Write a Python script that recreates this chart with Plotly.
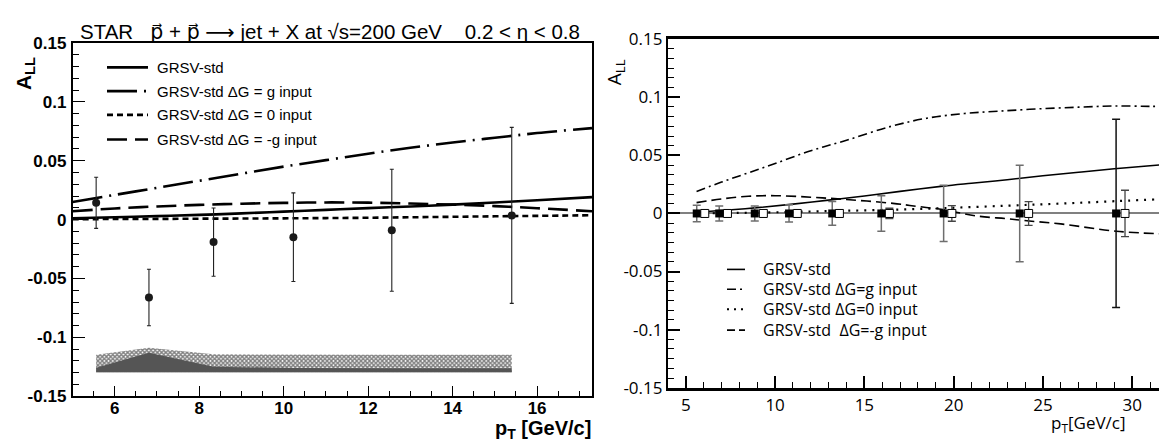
import plotly.graph_objects as go

W, H = 1167, 445

# ---------------- data: left panel (STAR jets) ----------------
star_pt = [5.56, 6.81, 8.34, 10.23, 12.56, 15.40]
star_all = [0.0143, -0.0661, -0.0191, -0.0149, -0.0090, 0.0036]
star_err = [0.0217, 0.0240, 0.0290, 0.0376, 0.0518, 0.0747]

band_pt = [5.56, 6.81, 8.34, 10.23, 12.56, 15.40]
band_bottom = -0.1297
band_hatch_top = [-0.1148, -0.1088, -0.1144, -0.1148, -0.1148, -0.1148]
band_gray_top = [-0.1257, -0.1130, -0.1249, -0.1260, -0.1262, -0.1262]

l_curve_pt = [5.0, 6.0, 7.0, 8.0, 9.0, 10.0, 11.0, 12.0, 13.0, 14.0, 15.0, 16.0, 17.3]
l_std = [0.0012, 0.0020, 0.0030, 0.0040, 0.0053, 0.0068, 0.0083, 0.0098, 0.0112, 0.0127, 0.0145, 0.0165, 0.0191]
l_g = [0.0150, 0.0210, 0.0270, 0.0330, 0.0390, 0.0450, 0.0505, 0.0560, 0.0610, 0.0655, 0.0695, 0.0735, 0.0777]
l_zero = [0.0004, 0.0005, 0.0006, 0.0008, 0.0009, 0.0011, 0.0013, 0.0016, 0.0020, 0.0024, 0.0028, 0.0032, 0.0037]
l_mg = [0.0071, 0.0095, 0.0112, 0.0125, 0.0135, 0.0142, 0.0146, 0.0144, 0.0137, 0.0127, 0.0115, 0.0097, 0.0071]

# ---------------- data: right panel (projection) ----------------
proj_pt = [5.61, 6.87, 8.86, 10.78, 13.20, 15.95, 19.44, 23.70]
proj_val = [0, 0, 0, 0, 0, 0, 0, 0]
proj_err = [0.0071, 0.0065, 0.0065, 0.0074, 0.0102, 0.0153, 0.0242, 0.0415]
proj_last_pt = [29.10]
proj_last_val = [0]
proj_last_err = [0.081]

proj2_pt = [6.06, 7.33, 9.34, 11.24, 13.60, 16.40, 19.90, 24.20, 29.60]
proj2_val = [0, 0, 0, 0, 0, 0, 0, 0, 0]
proj2_err = [0.0015, 0.0015, 0.0018, 0.0020, 0.0030, 0.0045, 0.0067, 0.0102, 0.0200]

r_std_pt = [5.6, 7.0, 9.0, 11.0, 13.0, 15.0, 17.0, 19.4, 21.0, 23.0, 25.0, 27.0, 29.0, 31.0, 32.4]
r_std = [0.0010, 0.0025, 0.0050, 0.0080, 0.0115, 0.0150, 0.0190, 0.0235, 0.0260, 0.0290, 0.0325, 0.0355, 0.0385, 0.0410, 0.0430]
r_g_pt = [5.6, 7.0, 8.5, 10.0, 12.0, 14.0, 16.5, 18.5, 20.6, 22.5, 24.7, 27.0, 29.0, 31.0, 32.4]
r_g = [0.0190, 0.0270, 0.0350, 0.0430, 0.0540, 0.0630, 0.0750, 0.0820, 0.0860, 0.0880, 0.0900, 0.0915, 0.0925, 0.0922, 0.0920]
r_zero_pt = [5.6, 8.0, 10.0, 12.9, 16.0, 19.4, 23.0, 26.0, 29.1, 32.4]
r_zero = [0.0000, 0.0005, 0.0010, 0.0020, 0.0030, 0.0046, 0.0067, 0.0085, 0.0106, 0.0128]
r_mg_pt = [5.6, 7.0, 8.5, 10.0, 12.0, 14.0, 16.6, 18.0, 19.4, 21.3, 23.0, 24.1, 26.0, 29.1, 32.4]
r_mg = [0.0093, 0.0125, 0.0148, 0.0153, 0.0140, 0.0120, 0.0087, 0.0060, 0.0033, -0.0022, -0.0045, -0.0063, -0.0090, -0.0153, -0.0180]

y_tickvals = [-0.15, -0.1, -0.05, 0, 0.05, 0.1, 0.15]
y_ticktext = ["-0.15", "-0.1", "-0.05", "0", "0.05", "0.1", "0.15"]
lx_tickvals = [6, 8, 10, 12, 14, 16]
rx_tickvals = [5, 10, 15, 20, 25, 30]

legend_left = ["GRSV-std", "GRSV-std \u0394G = g input", "GRSV-std \u0394G = 0 input", "GRSV-std \u0394G = -g input"]
legend_right = ["GRSV-std", "GRSV-std \u0394G=g input", "GRSV-std \u0394G=0 input", "GRSV-std  \u0394G=-g input"]

LFONT = "Liberation Sans, Arial, sans-serif"
RFONT = "Open Sans, Liberation Sans, sans-serif"

fig = go.Figure()

# ---- left panel ----
fig.add_trace(go.Scatter(x=band_pt, y=[band_bottom] * len(band_pt), mode="lines",
                         line=dict(width=0, color="black"), xaxis="x", yaxis="y", hoverinfo="skip"))
fig.add_trace(go.Scatter(x=band_pt, y=band_hatch_top, mode="lines", fill="tonexty",
                         line=dict(width=0, color="black"), fillcolor="black",
                         fillpattern=dict(shape="x", fgcolor="black", bgcolor="white", size=3, solidity=0.7),
                         xaxis="x", yaxis="y"))
fig.add_trace(go.Scatter(x=band_pt, y=[band_bottom] * len(band_pt), mode="lines",
                         line=dict(width=0, color="#555"), xaxis="x", yaxis="y", hoverinfo="skip"))
fig.add_trace(go.Scatter(x=band_pt, y=band_gray_top, mode="lines", fill="tonexty",
                         line=dict(width=0, color="#555"), fillcolor="#555555", xaxis="x", yaxis="y"))

lw = 2.6
fig.add_trace(go.Scatter(x=l_curve_pt, y=l_zero, mode="lines", line=dict(color="black", width=lw, dash="6px,4px", shape="spline"), xaxis="x", yaxis="y"))
fig.add_trace(go.Scatter(x=l_curve_pt, y=l_mg, mode="lines", line=dict(color="black", width=lw, dash="20px,8px", shape="spline"), xaxis="x", yaxis="y"))
fig.add_trace(go.Scatter(x=l_curve_pt, y=l_g, mode="lines", line=dict(color="black", width=lw, dash="30px,7px,2px,7px", shape="spline"), xaxis="x", yaxis="y"))
fig.add_trace(go.Scatter(x=l_curve_pt, y=l_std, mode="lines", line=dict(color="black", width=lw, shape="spline"), xaxis="x", yaxis="y"))

fig.add_trace(go.Scatter(x=star_pt, y=star_all, mode="markers",
                         marker=dict(symbol="circle", size=8, color="#1a1a1a"),
                         error_y=dict(type="data", array=star_err, color="#222", thickness=1.1, width=2),
                         xaxis="x", yaxis="y"))

# ---- right panel ----
rw = 1.6
fig.add_trace(go.Scatter(x=r_zero_pt, y=r_zero, mode="lines", line=dict(color="black", width=2.2, dash="2px,6px", shape="spline"), xaxis="x2", yaxis="y2"))
fig.add_trace(go.Scatter(x=r_mg_pt, y=r_mg, mode="lines", line=dict(color="black", width=rw, dash="10px,5px", shape="spline"), xaxis="x2", yaxis="y2"))
fig.add_trace(go.Scatter(x=r_g_pt, y=r_g, mode="lines", line=dict(color="black", width=rw, dash="9px,4px,2px,4px", shape="spline"), xaxis="x2", yaxis="y2"))
fig.add_trace(go.Scatter(x=r_std_pt, y=r_std, mode="lines", line=dict(color="black", width=rw, shape="spline"), xaxis="x2", yaxis="y2"))

fig.add_trace(go.Scatter(x=proj_pt, y=proj_val, mode="markers",
                         marker=dict(symbol="square", size=8, color="black"),
                         error_y=dict(type="data", array=proj_err, color="#6e6e6e", thickness=1.5, width=4),
                         xaxis="x2", yaxis="y2"))
fig.add_trace(go.Scatter(x=proj_last_pt, y=proj_last_val, mode="markers",
                         marker=dict(symbol="square", size=8, color="black"),
                         error_y=dict(type="data", array=proj_last_err, color="#111", thickness=1.5, width=4),
                         xaxis="x2", yaxis="y2"))
fig.add_trace(go.Scatter(x=proj2_pt, y=proj2_val, mode="markers",
                         marker=dict(symbol="square", size=8, color="white", line=dict(color="black", width=1)),
                         error_y=dict(type="data", array=proj2_err, color="#444", thickness=1.3, width=4),
                         xaxis="x2", yaxis="y2"))

def px(x):
    return x / W

def py(y):
    return 1 - y / H

fig.update_layout(
    width=W, height=H, margin=dict(l=0, r=0, t=0, b=0),
    paper_bgcolor="white", plot_bgcolor="white", showlegend=False,
    xaxis=dict(domain=[px(64.5), px(584)], range=[5.0, 17.3], tickvals=lx_tickvals,
               ticklen=11, tickwidth=1.3, tickcolor="black", linewidth=1.5, mirror=True,
               minor=dict(dtick=0.5, tick0=0, ticklen=6, tickwidth=1.1, tickcolor="black", ticks="inside"),
               tickfont=dict(family=LFONT, size=17, color="black", weight="bold"), anchor="y",
               ticklabelstandoff=-5,
               showgrid=False, zeroline=False, ticks="inside", linecolor="black"),
    yaxis=dict(domain=[py(397), py(24)], range=[-0.1502, 0.1502], tickvals=y_tickvals, ticktext=y_ticktext,
               ticklen=13, tickwidth=1.3, tickcolor="black", linewidth=1.5, mirror=True,
               minor=dict(dtick=0.01, tick0=0, ticklen=7, tickwidth=1.1, tickcolor="black", ticks="inside"),
               tickfont=dict(family=LFONT, size=17, color="black", weight="bold"), anchor="x",
               ticklabelstandoff=1,
               showgrid=False, zeroline=False, ticks="inside", linecolor="black"),
    xaxis2=dict(domain=[px(660), 1.0], range=[4.0, 32.4], tickvals=rx_tickvals,
                ticklen=12, tickwidth=1.5, tickcolor="black", linewidth=2.5, mirror=True,
                minor=dict(dtick=1, tick0=0, ticklen=6, tickwidth=1.2, tickcolor="black", ticks="inside"),
                tickfont=dict(family=RFONT, size=17, color="black"), anchor="y2",
                showgrid=False, zeroline=False, ticks="inside", linecolor="black"),
    yaxis2=dict(domain=[py(388), py(20)], range=[-0.1502, 0.1502], tickvals=y_tickvals, ticktext=y_ticktext,
                ticklen=12, tickwidth=1.5, tickcolor="black", linewidth=2.2,
                minor=dict(dtick=0.05 / 6, tick0=0, ticklen=6, tickwidth=1.2, tickcolor="black", ticks="inside"),
                tickfont=dict(family=RFONT, size=17, color="black"), anchor="x2",
                showgrid=False, zeroline=True, zerolinecolor="#808080", zerolinewidth=1.6,
                ticks="inside", linecolor="black"),
)

ann = []
pvec = '<span style="font-family:DejaVu Sans">p\u20d7</span>'
arrow = '<span style="font-family:DejaVu Sans">\u27f6</span>'
ann.append(dict(x=px(70), y=py(13), xref="paper", yref="paper", xanchor="left", yanchor="middle",
                text="STAR   " + pvec + " + " + pvec + " " + arrow + " jet + X at \u221as=200 GeV    0.2 < \u03b7 < 0.8",
                showarrow=False, font=dict(family=LFONT, size=20.5, color="black")))
ann.append(dict(x=px(17), y=py(57), xref="paper", yref="paper", xanchor="center", yanchor="middle",
                text="<b>A<sub>LL</sub></b>", textangle=-90, showarrow=False,
                font=dict(family=LFONT, size=21, color="black")))
ann.append(dict(x=px(585), y=py(432), xref="paper", yref="paper", xanchor="right", yanchor="middle",
                text="<b>p<sub>T</sub> [GeV/c]</b>", showarrow=False,
                font=dict(family=LFONT, size=20, color="black")))
ann.append(dict(x=px(607), y=py(55), xref="paper", yref="paper", xanchor="center", yanchor="middle",
                text="A<sub>LL</sub>", textangle=-90, showarrow=False,
                font=dict(family=RFONT, size=19, color="black")))
ann.append(dict(x=px(1080), y=py(425), xref="paper", yref="paper", xanchor="center", yanchor="middle",
                text="p<sub>T</sub>[GeV/c]", showarrow=False,
                font=dict(family=RFONT, size=17, color="black")))

shapes = []
l_rows = [50, 75, 100, 126]
l_dashes = ["solid", "30px,7px,2px,7px", "6px,4px", "20px,8px"]
for row, dash, label in zip(l_rows, l_dashes, legend_left):
    shapes.append(dict(type="line", xref="paper", yref="paper", x0=px(99), x1=px(140), y0=py(row), y1=py(row),
                       line=dict(color="black", width=2.6, dash=dash)))
    ann.append(dict(x=px(147), y=py(row), xref="paper", yref="paper", xanchor="left", yanchor="middle",
                    text=label, showarrow=False, font=dict(family=LFONT, size=15, color="black")))
r_rows = [263, 284, 305, 327]
r_dashes = ["solid", "9px,4px,2px,4px", "2px,5px", "8px,4px"]
r_widths = [1.6, 1.6, 2.2, 1.6]
for row, dash, lwid, label in zip(r_rows, r_dashes, r_widths, legend_right):
    shapes.append(dict(type="line", xref="paper", yref="paper", x0=px(719), x1=px(737), y0=py(row), y1=py(row),
                       line=dict(color="black", width=lwid, dash=dash)))
    ann.append(dict(x=px(753), y=py(row), xref="paper", yref="paper", xanchor="left", yanchor="middle",
                    text=label, showarrow=False, font=dict(family=RFONT, size=16, color="black")))

fig.update_layout(annotations=ann, shapes=shapes)
fig.write_html("out.html")
